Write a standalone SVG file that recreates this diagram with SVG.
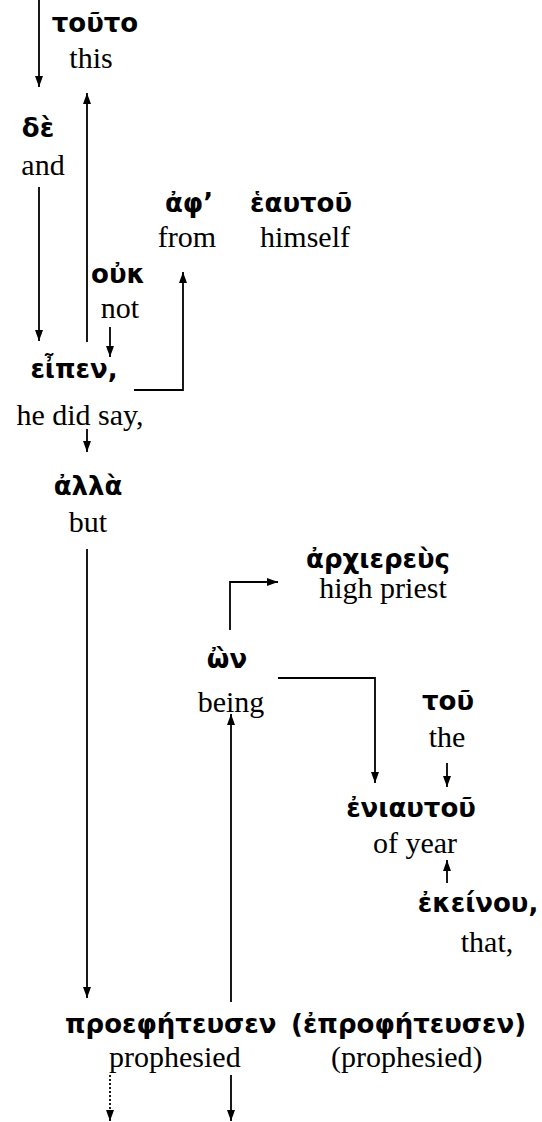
<svg xmlns="http://www.w3.org/2000/svg" width="542" height="1122" viewBox="0 0 542 1122">
  <style>
    .gk { font-family: "DejaVu Sans", "Noto Sans", sans-serif; font-weight: bold; font-size: 26px; fill: #000; }
    .en { font-family: "Liberation Serif", "DejaVu Serif", serif; font-size: 30px; fill: #000; }
    .c  { text-anchor: middle; }
    .ln { fill: none; stroke: #000; stroke-width: 1.8; }
    .arr { marker-end: url(#head); }
    .dot { stroke-dasharray: 2 2; }
  </style>
  <defs>
    <marker id="head" markerUnits="userSpaceOnUse" markerWidth="11" markerHeight="10" viewBox="0 0 11 10" refX="11" refY="5" orient="auto">
      <path d="M0,1 L11,5 L0,9 z" fill="#000"/>
    </marker>
  </defs>
  <rect width="542" height="1122" fill="#fff"/>

  <!-- connectors -->
  <g id="connectors">
    <path class="ln arr" d="M39,0 V87"/>
    <path class="ln arr" d="M87,342 V93"/>
    <path class="ln arr" d="M39,187 V341"/>
    <path class="ln arr" d="M110,327 V357"/>
    <path class="ln arr" d="M134,390 H183 V272"/>
    <path class="ln arr" d="M87,429 V452"/>
    <path class="ln arr" d="M87,549 V998"/>
    <path class="ln arr" d="M230,630 V582 H278"/>
    <path class="ln arr" d="M231,1002 V714"/>
    <path class="ln arr" d="M278,678 H375 V783"/>
    <path class="ln arr" d="M447,763 V787"/>
    <path class="ln arr" d="M447,883 V860"/>
    <path class="ln arr dot" d="M110,1075 V1121"/>
    <path class="ln arr" d="M231,1075 V1121"/>
  </g>

  <!-- word nodes: Greek above, English gloss below -->
  <g id="touto">
    <text class="gk c" x="95" y="32">τοῦτο</text>
    <text class="en c" x="91" y="68">this</text>
  </g>
  <g id="de">
    <text class="gk c" x="38" y="137">δὲ</text>
    <text class="en c" x="43" y="175">and</text>
  </g>
  <g id="aph">
    <text class="gk c" x="189" y="212">ἀφ’</text>
    <text class="en c" x="187" y="247">from</text>
  </g>
  <g id="heautou">
    <text class="gk c" x="301" y="212">ἑαυτοῦ</text>
    <text class="en c" x="305" y="247">himself</text>
  </g>
  <g id="ouk">
    <text class="gk c" x="118" y="283">οὐκ</text>
    <text class="en c" x="120" y="318">not</text>
  </g>
  <g id="eipen">
    <text class="gk c" x="74" y="378">εἶπεν,</text>
    <text class="en c" x="80" y="425">he did say,</text>
  </g>
  <g id="alla">
    <text class="gk c" x="88" y="495">ἀλλὰ</text>
    <text class="en c" x="88" y="532">but</text>
  </g>
  <g id="archiereus">
    <text class="gk c" x="378" y="568">ἀρχιερεὺς</text>
    <text class="en c" x="383" y="598">high priest</text>
  </g>
  <g id="on">
    <text class="gk c" x="227" y="668">ὢν</text>
    <text class="en c" x="231" y="712">being</text>
  </g>
  <g id="tou">
    <text class="gk c" x="448" y="710">τοῦ</text>
    <text class="en c" x="447" y="747">the</text>
  </g>
  <g id="eniautou">
    <text class="gk c" x="411" y="817">ἐνιαυτοῦ</text>
    <text class="en c" x="415" y="853">of year</text>
  </g>
  <g id="ekeinou">
    <text class="gk c" x="478" y="912">ἐκείνου,</text>
    <text class="en c" x="487" y="952">that,</text>
  </g>
  <g id="proephteusen">
    <text class="gk" x="65" y="1033">προεφήτευσεν</text>
    <text class="en" x="109" y="1067">prophesied</text>
  </g>
  <g id="eprophteusen">
    <text class="gk" x="291" y="1033">(ἐπροφήτευσεν)</text>
    <text class="en" x="331" y="1067">(prophesied)</text>
  </g>
</svg>
